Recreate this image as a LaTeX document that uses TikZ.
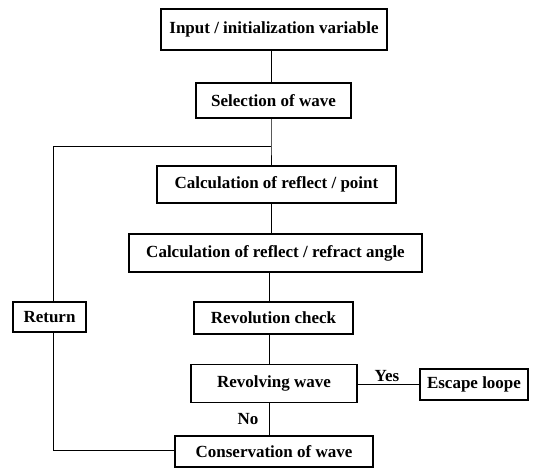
\documentclass[tikz,border=0pt]{standalone}
\usepackage{fontspec}
\setmainfont{Liberation Serif}
\begin{document}
\begin{tikzpicture}[x=1pt,y=-1pt,
  box/.style={draw=black,line width=1.2pt,inner sep=0pt,align=center,
    font=\fontsize{17}{20}\selectfont\bfseries},
  conn/.style={draw=black,line width=0.8pt},
  lbl/.style={font=\fontsize{17}{20}\selectfont\bfseries,inner sep=0pt}]
\useasboundingbox (0,0) rectangle (535,472);
\node[box,minimum width=226pt,minimum height=41pt] (in) at (274,29.5) {Input / initialization variable};
\node[box,minimum width=155pt,minimum height=35pt] (sel) at (273.5,100.5) {Selection of wave};
\node[box,minimum width=239pt,minimum height=37pt] (rp) at (276.5,184.5) {Calculation of reflect / point};
\node[box,minimum width=293pt,minimum height=38pt] (ra) at (275.5,253) {Calculation of reflect / refract angle};
\node[box,minimum width=159pt,minimum height=32pt] (rc) at (273.5,318) {Revolution check};
\node[box,minimum width=166pt,minimum height=38pt] (rw) at (274,383.5) {Revolving wave};
\node[box,minimum width=108pt,minimum height=31pt] (esc) at (474,384.5) {Escape loope};
\node[box,minimum width=198pt,minimum height=31pt] (cons) at (274,451.5) {Conservation of wave};
\node[box,minimum width=73pt,minimum height=30pt] (ret) at (49.5,317) {Return};
\coordinate (spine) at (271,0);
\coordinate (spinelow) at (269,0);
\coordinate (j) at (271,146);
\coordinate (lc) at (53,146);
\coordinate (lb) at (53,450);
\draw[conn] (in.south -| spine) -- (sel.north -| spine);
\draw[conn] (sel.south -| spine) -- (j) -- (rp.north -| spine);
\draw[conn] (rp.south -| spine) -- (ra.north -| spine);
\draw[conn] (ra.south -| spinelow) -- (rc.north -| spinelow);
\draw[conn] (rc.south -| spinelow) -- (rw.north -| spinelow);
\draw[conn] (rw.south -| spinelow) -- (cons.north -| spinelow);
\draw[conn] (rw.east |- esc.west) -- (esc.west);
\draw[conn] (j) -- (lc) -- (ret.north -| lc);
\draw[conn] (ret.south -| lc) -- (lb) -- (cons.west |- lb);
\node[lbl] (yes) at (387,376) {Yes};
\node[lbl] (no) at (248,419) {No};
\end{tikzpicture}
\end{document}
